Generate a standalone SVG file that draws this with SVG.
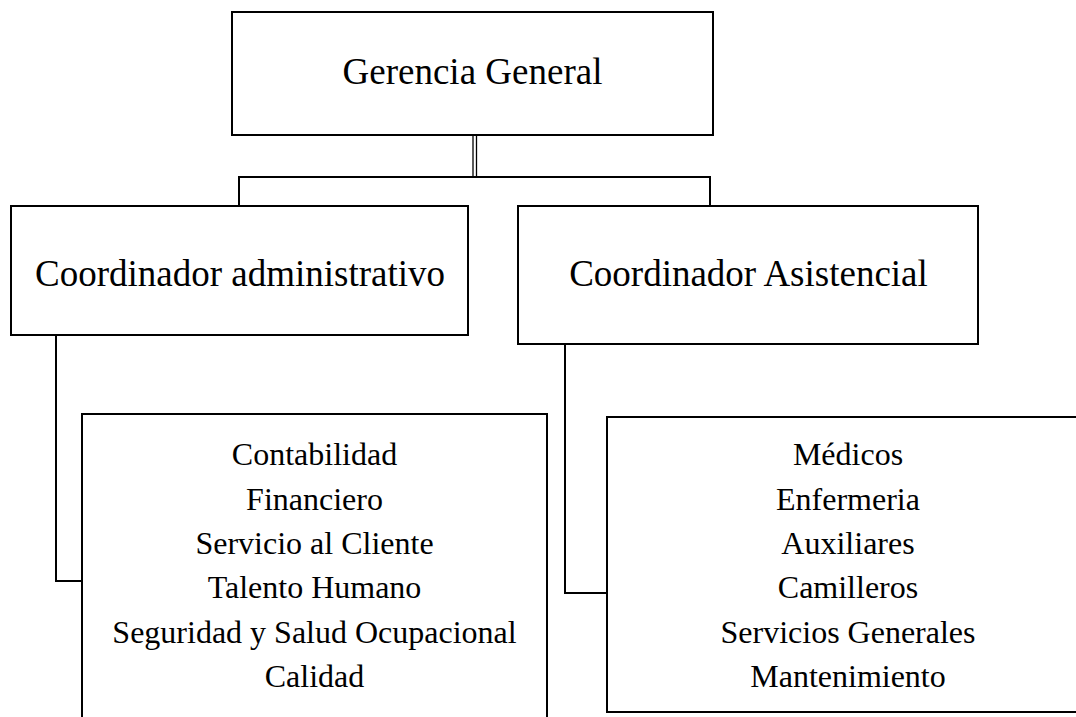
<svg xmlns="http://www.w3.org/2000/svg" width="1076" height="717" viewBox="0 0 1076 717">
  <style>
    .box { fill: #ffffff; stroke: #000000; stroke-width: 2; }
    .conn { fill: none; stroke: #000000; stroke-width: 2; }
    .thin { fill: none; stroke: #000000; stroke-width: 1.3; }
    .title { font-family: 'Liberation Serif', 'DejaVu Serif', serif; font-size: 37px; fill: #000000; text-anchor: middle; }
    .item { font-family: 'Liberation Serif', 'DejaVu Serif', serif; font-size: 32px; fill: #000000; text-anchor: middle; }
  </style>
  <rect width="1076" height="717" fill="#ffffff"/>
  <g id="connectors">
    <line class="thin" x1="473" y1="135" x2="473" y2="177"/>
    <line class="thin" x1="476.5" y1="135" x2="476.5" y2="177"/>
    <polyline class="conn" points="239,206 239,177 710,177 710,206"/>
    <polyline class="conn" points="56,335 56,581 82,581"/>
    <polyline class="conn" points="565,344 565,593 607,593"/>
  </g>
  <g id="gerencia-general">
    <rect class="box" x="232" y="12" width="481" height="123"/>
    <text class="title" x="472.5" y="84">Gerencia General</text>
  </g>
  <g id="coordinador-administrativo">
    <rect class="box" x="11" y="206" width="457" height="129"/>
    <text class="title" x="240" y="286">Coordinador administrativo</text>
  </g>
  <g id="coordinador-asistencial">
    <rect class="box" x="518" y="206" width="460" height="138"/>
    <text class="title" x="748.5" y="286">Coordinador Asistencial</text>
  </g>
  <g id="areas-administrativas">
    <rect class="box" x="82" y="414" width="465" height="320"/>
    <text class="item" x="314.5" y="465">Contabilidad</text>
    <text class="item" x="314.5" y="509.5">Financiero</text>
    <text class="item" x="314.5" y="554">Servicio al Cliente</text>
    <text class="item" x="314.5" y="598">Talento Humano</text>
    <text class="item" x="314.5" y="642.5">Seguridad y Salud Ocupacional</text>
    <text class="item" x="314.5" y="687">Calidad</text>
  </g>
  <g id="areas-asistenciales">
    <rect class="box" x="607" y="417" width="482" height="295"/>
    <text class="item" x="848" y="465">Médicos</text>
    <text class="item" x="848" y="509.5">Enfermeria</text>
    <text class="item" x="848" y="554">Auxiliares</text>
    <text class="item" x="848" y="598">Camilleros</text>
    <text class="item" x="848" y="642.5">Servicios Generales</text>
    <text class="item" x="848" y="687">Mantenimiento</text>
  </g>
</svg>
